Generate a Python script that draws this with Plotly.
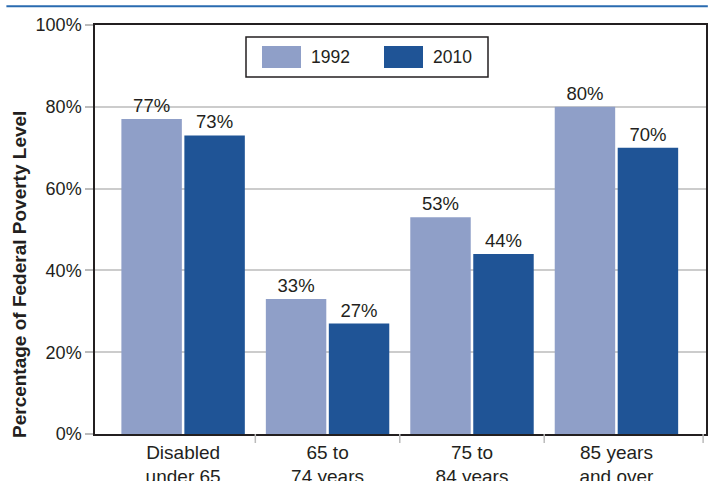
import plotly.graph_objects as go

# Chart data
categories = ["Disabled<br>under 65", "65 to<br>74 years", "75 to<br>84 years", "85 years<br>and over"]
series_names = ["1992", "2010"]
values_1992 = [77, 33, 53, 80]
values_2010 = [73, 27, 44, 70]
y_ticks = [0, 20, 40, 60, 80, 100]
y_tick_labels = ["0%", "20%", "40%", "60%", "80%", "100%"]

light_blue = "#8f9fc8"
dark_blue = "#1f5496"
text_color = "#231f20"
font_family = "Liberation Sans, Arial, sans-serif"

x_pos = list(range(len(categories)))

fig = go.Figure()
for name, vals, color in [(series_names[0], values_1992, light_blue),
                          (series_names[1], values_2010, dark_blue)]:
    fig.add_trace(go.Bar(
        x=x_pos, y=vals, name=name, marker=dict(color=color, line=dict(width=0)),
        text=[f"{v}%" for v in vals], textposition="outside",
        constraintext="none",
        textfont=dict(size=18.5, color=text_color, family=font_family),
        cliponaxis=False, showlegend=False,
    ))

fig.update_layout(
    width=708, height=481,
    margin=dict(l=95, r=2, t=25, b=47),
    paper_bgcolor="white", plot_bgcolor="white",
    barmode="group", bargap=0.128, bargroupgap=0.04,
    font=dict(family=font_family, color=text_color),
    xaxis=dict(
        range=[-0.61, 3.62], tickvals=x_pos, ticktext=categories,
        ticks="", showgrid=False, tickfont=dict(size=19, color=text_color),
        showline=True, linecolor="#231f20", linewidth=1.5, mirror=True,
        zeroline=False, automargin=False,
    ),
    yaxis=dict(
        range=[0, 100], tickvals=y_ticks, ticktext=y_tick_labels,
        ticks="outside", ticklen=8, tickcolor="#bbbbbb", tickwidth=1.5,
        tickfont=dict(size=18, color=text_color),
        showgrid=True, gridcolor="#cccccc", gridwidth=1.5,
        showline=True, linecolor="#231f20", linewidth=1.5, mirror=True,
        zeroline=False, automargin=False,
    ),
)

shapes = []
# Category separator ticks below the x axis
for xv in [0.5, 1.5, 2.5, 3.6]:
    shapes.append(dict(type="line", xref="x", yref="paper", x0=xv, x1=xv,
                       y0=0, y1=-0.022, line=dict(color="#bbbbbb", width=1.5)))
# Blue rule across the top
shapes.append(dict(type="line", xref="paper", yref="paper", x0=-0.145, x1=1.003,
                   y0=1.046, y1=1.046, line=dict(color="#2a6bb0", width=2)))
# Legend box and swatches
shapes.append(dict(type="rect", xref="paper", yref="paper",
                   x0=(246 - 95) / 611, x1=(488 - 95) / 611,
                   y0=(434 - 77) / 409, y1=(434 - 37) / 409,
                   line=dict(color="#231f20", width=1.5), fillcolor="white"))
for x0, color in [(262, light_blue), (384, dark_blue)]:
    shapes.append(dict(type="rect", xref="paper", yref="paper",
                       x0=(x0 - 95) / 611, x1=(x0 + 39 - 95) / 611,
                       y0=(434 - 68) / 409, y1=(434 - 46) / 409,
                       line=dict(width=0), fillcolor=color))
fig.update_layout(shapes=shapes)

annotations = []
for x_text, name in [(309, series_names[0]), (431, series_names[1])]:
    annotations.append(dict(xref="paper", yref="paper", x=(x_text - 95) / 611,
                            y=(434 - 57) / 409, xanchor="left", yanchor="middle",
                            text=name, showarrow=False,
                            font=dict(size=17.5, color=text_color, family=font_family)))
annotations.append(dict(xref="paper", yref="paper", x=(19 - 95) / 611,
                        y=(434 - 275) / 409, xanchor="center", yanchor="middle",
                        text="<b>Percentage of Federal Poverty Level</b>", textangle=-90,
                        showarrow=False,
                        font=dict(size=19, color=text_color, family=font_family)))
fig.update_layout(annotations=annotations)

fig.write_html("out.html")
